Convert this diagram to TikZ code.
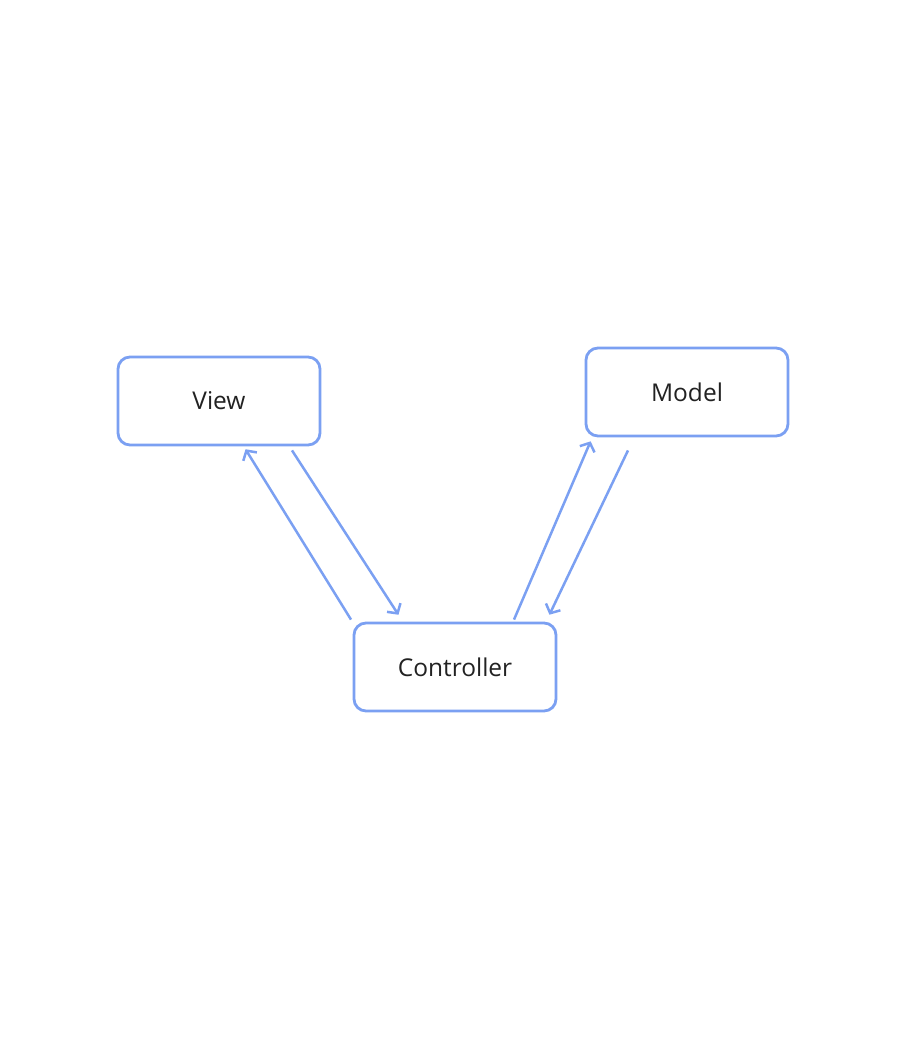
\documentclass[tikz,border=0pt]{standalone}
\usepackage{fontspec}
\setmainfont{Open Sans}
\usepackage{tikz}
\usetikzlibrary{arrows.meta}
\definecolor{boxblue}{HTML}{7BA0F2}
\definecolor{txtgray}{HTML}{222222}

\begin{document}
\begin{tikzpicture}[x=1pt,y=-1pt,shorten >=1pt,-]
            \tikzstyle{part}=[rectangle,rounded corners=12pt,draw=boxblue,line width=2.8pt,fill=white,minimum width=202pt,minimum height=88pt,inner sep=0pt,text=txtgray,font=\fontsize{24.5}{28}\selectfont]
            \tikzstyle{link}=[draw=boxblue,line width=2.5pt,-{Straight Barb[length=7pt,width=16pt,line width=2.5pt]}]
                \useasboundingbox (0,0) rectangle (906,1062);
                \node[part] (V) at (219, 401){View};
                \node[part] (M) at (687, 392){Model};
                \node[part] (C) at (455, 667){Controller};

                \draw[link] ([xshift=73pt,yshift=-4pt]V.south) -- ([xshift=-56pt,yshift=6pt]C.north);
                \draw[link] ([xshift=-104pt,yshift=2pt]C.north) -- ([xshift=26pt,yshift=-2pt]V.south);
                \draw[link] ([xshift=59pt,yshift=2pt]C.north) -- ([xshift=-96pt,yshift=-3pt]M.south);
                \draw[link] ([xshift=-59pt,yshift=-13pt]M.south) -- ([xshift=94pt,yshift=6pt]C.north);
        \end{tikzpicture}
\end{document}
